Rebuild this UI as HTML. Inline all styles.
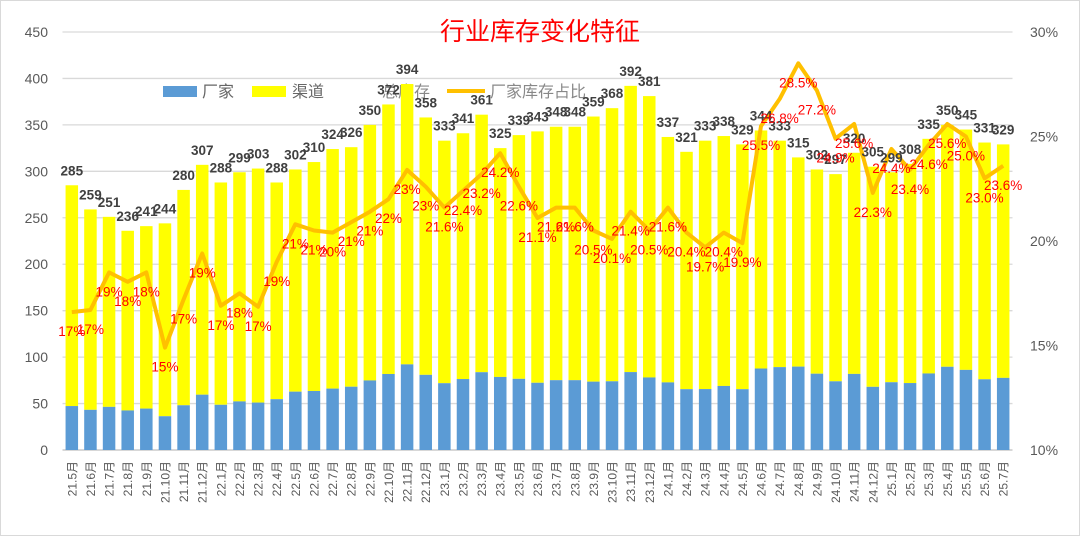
<!DOCTYPE html>
<html><head><meta charset="utf-8"><style>
html,body{margin:0;padding:0;background:#fff}
svg{display:block;font-family:"Liberation Sans","Noto Sans CJK SC",sans-serif}
</style></head><body>
<svg id="chart" width="1080" height="536" viewBox="0 0 1080 536" xmlns="http://www.w3.org/2000/svg">
<rect x="0.5" y="0.5" width="1079" height="535" fill="#fff" stroke="#d9d9d9"/>
<g id="grid"></g>
<g id="legend">
 <rect x="163" y="86" width="34" height="11" fill="#5b9bd5"/>
 <text x="202" y="97" font-size="16" fill="#666">厂家</text>
 <rect x="252" y="86" width="34" height="11" fill="#ffff00"/>
 <text x="292" y="97" font-size="16" fill="#666">渠道</text>
 <text x="382" y="97" font-size="16" fill="#888">总库存</text>
 <line x1="447" y1="91" x2="485" y2="91" stroke="#ffc000" stroke-width="4"/>
 <text x="490" y="97" font-size="16" fill="#888">厂家库存占比</text>
</g>
<g id="bars"></g>
<g id="line"></g>
<g id="labels"></g>
<text x="540" y="40" font-size="25" fill="#ff0000" text-anchor="middle">行业库存变化特征</text>
</svg>
<script>
const months=["21.5","21.6","21.7","21.8","21.9","21.10","21.11","21.12","22.1","22.2","22.3","22.4","22.5","22.6","22.7","22.8","22.9","22.10","22.11","22.12","23.1","23.2","23.3","23.4","23.5","23.6","23.7","23.8","23.9","23.10","23.11","23.12","24.1","24.2","24.3","24.4","24.5","24.6","24.7","24.8","24.9","24.10","24.11","24.12","25.1","25.2","25.3","25.4","25.5","25.6","25.7"];
const totals=[285,259,251,236,241,244,280,307,288,299,303,288,302,310,324,326,350,372,394,358,333,341,361,325,339,343,348,348,359,368,392,381,337,321,333,338,329,344,333,315,302,297,320,305,299,308,335,350,345,331,329];
const ratios=[16.6,16.7,18.5,18.05,18.5,14.9,17.2,19.4,16.9,17.5,16.85,19.0,20.8,20.5,20.4,20.9,21.4,22.0,23.4,22.6,21.6,22.4,23.2,24.2,22.6,21.1,21.6,21.6,20.5,20.1,21.4,20.5,21.6,20.4,19.7,20.4,19.9,25.5,26.8,28.5,27.2,24.9,25.6,22.3,24.4,23.4,24.6,25.6,25.0,23.0,23.6];
const ratioLabels=["17%","17%","19%","18%","18%","15%","17%","19%","17%","18%","17%","19%","21%","21%","20%","21%","21%","22%","23%","23%","21.6%","22.4%","23.2%","24.2%","22.6%","21.1%","21.6%","21.6%","20.5%","20.1%","21.4%","20.5%","21.6%","20.4%","19.7%","20.4%","19.9%","25.5%","26.8%","28.5%","27.2%","24.9%","25.6%","22.3%","24.4%","23.4%","24.6%","25.6%","25.0%","23.0%","23.6%"];
const leftTicks=[0,50,100,150,200,250,300,350,400,450];
const rightTicks=[10,15,20,25,30];

const NS="http://www.w3.org/2000/svg";
const x0=62.5,x1=1012.5,yb=450,yt=32;
const step=(x1-x0)/months.length;
const xc=i=>x0+step*(i+0.5);
const yL=v=>yb-(v/450)*(yb-yt);
const yR=p=>yb-((p-10)/20)*(yb-yt);
function mk(tag,attrs,parent,txt){const e=document.createElementNS(NS,tag);for(const k in attrs)e.setAttribute(k,attrs[k]);if(txt!==undefined)e.textContent=txt;parent.appendChild(e);return e;}
const grid=document.getElementById('grid'),bars=document.getElementById('bars'),line=document.getElementById('line'),labels=document.getElementById('labels');

leftTicks.forEach(t=>{
 const l=mk('line',{x1:x0,x2:x1,y1:yL(t),y2:yL(t),stroke:t===0?'#bfbfbf':'#d9d9d9','stroke-width':1.3},grid);
 
 
 const tx=mk('text',{x:48,y:yL(t)+5,'font-size':14,fill:'#595959','text-anchor':'end'},grid,String(t));
 
 
});
rightTicks.forEach(t=>{
 const tx=mk('text',{x:1030,y:yR(t)+5,'font-size':14,fill:'#595959'},grid,t+'%');
 
 
});

const bw=12.5;
months.forEach((m,i)=>{
 const fac=totals[i]*ratios[i]/100;
 const cx=xc(i);
 const ch=mk('rect',{x:cx-bw/2,y:yL(totals[i]),width:bw,height:yL(fac)-yL(totals[i]),fill:'#ffff00'},bars);
 
 
 const fb=mk('rect',{x:cx-bw/2,y:yL(fac),width:bw,height:yb-yL(fac),fill:'#5b9bd5'},bars);
 
 
 const xl=mk('text',{transform:`translate(${cx+4.5},461) rotate(-90)`,'font-size':12,fill:'#595959','text-anchor':'end'},labels,m+'月');
 
 
 const tl=mk('text',{x:cx,y:yL(totals[i])-10,'font-size':13.5,'font-weight':'bold',fill:'#404040','text-anchor':'middle'},labels,String(totals[i]));
 
 
});
const pts=ratios.map((r,i)=>xc(i).toFixed(1)+','+yR(r).toFixed(1)).join(' ');
const pl=mk('polyline',{points:pts,fill:'none',stroke:'#ffc000','stroke-width':4,'stroke-linejoin':'round'},line);


ratios.forEach((r,i)=>{
 const t=mk('text',{x:xc(i),y:yR(r)+24,'font-size':13.5,fill:'#ff0000','text-anchor':'middle'},labels,ratioLabels[i]);
 
 
});
</script>
</body></html>
